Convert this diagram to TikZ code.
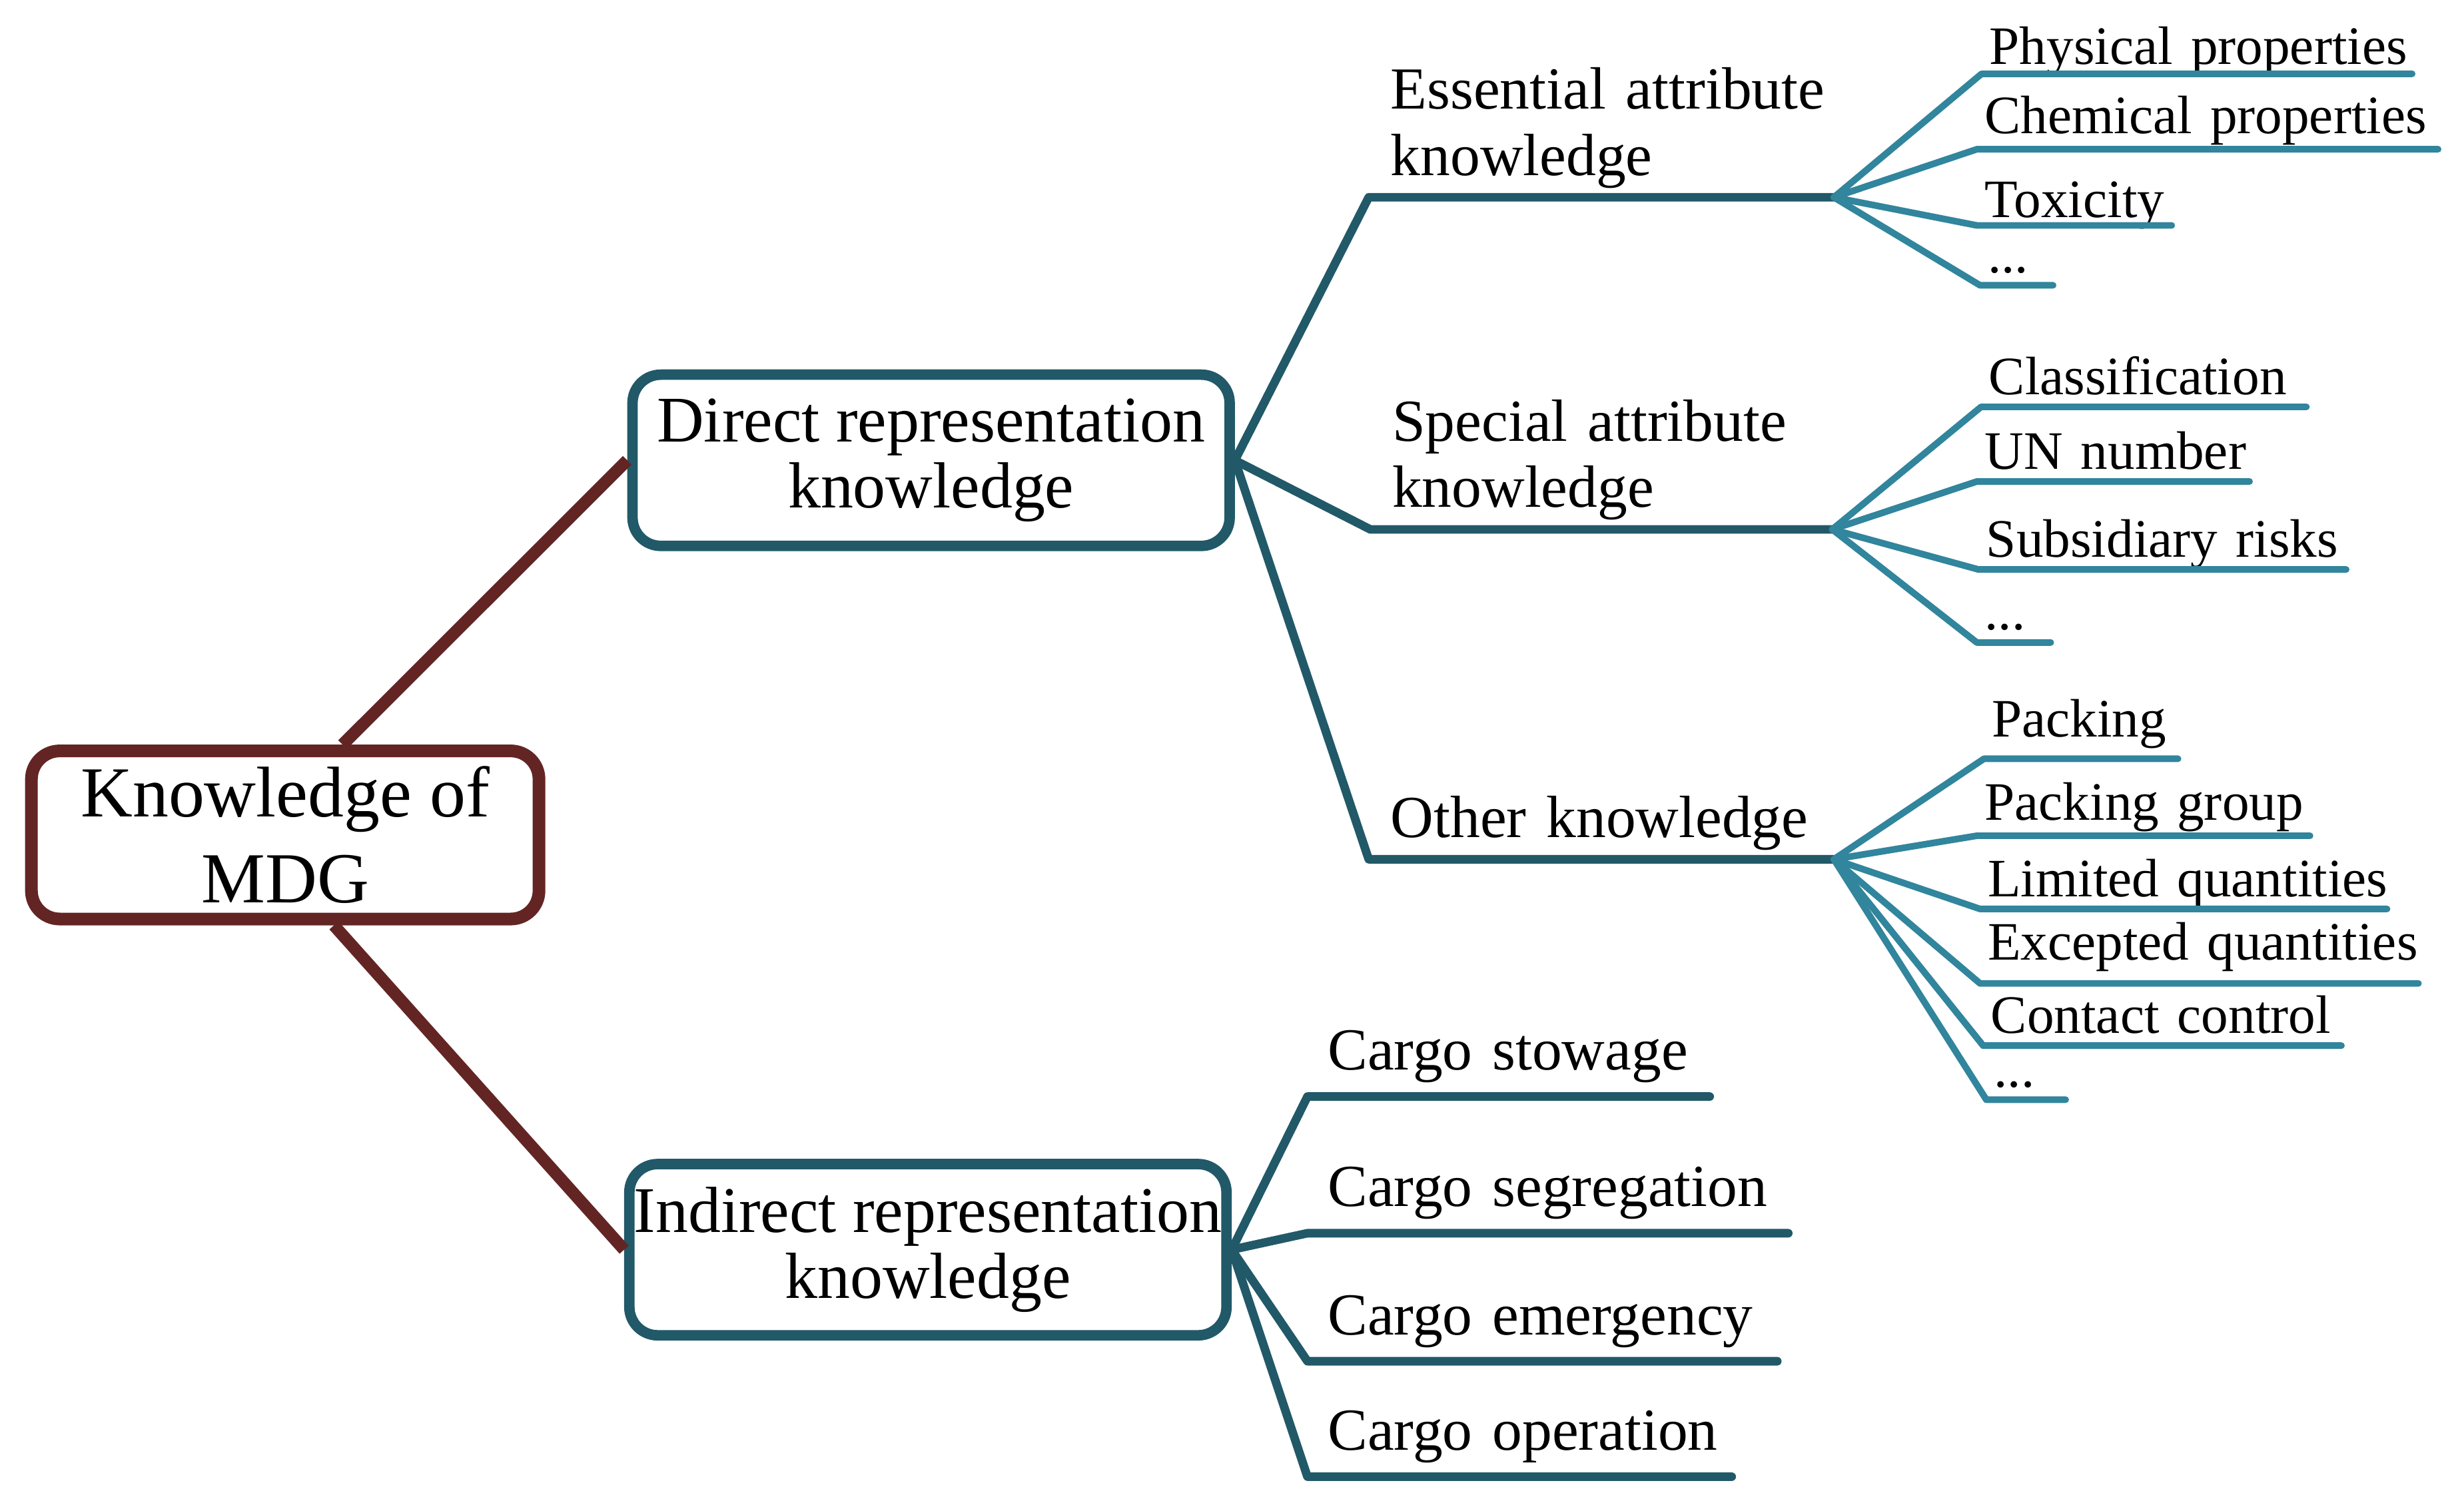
\documentclass[tikz,border=0pt]{standalone}
\usepackage{fontspec}
\setmainfont{Liberation Serif}
\usepackage{xcolor}
\definecolor{mdgbrown}{RGB}{99,37,35}
\definecolor{mdgdark}{RGB}{33,89,104}
\definecolor{mdgteal}{RGB}{49,133,156}

\begin{document}
\begin{tikzpicture}
  [x=0.1mm,y=-0.1mm,line cap=round,line join=round,
   kbox/.style={draw=mdgdark,line width=1.9pt,rounded corners=1.8mm,
     minimum width=38mm,minimum height=10.9mm,align=center,inner sep=0pt,
     font=\fontsize{11.8}{12}\selectfont},
   rootbox/.style={kbox,draw=mdgbrown,line width=2.3pt,minimum width=32.3mm,
     minimum height=10.7mm,font=\fontsize{13}{15.6}\selectfont},
   mid/.style={anchor=south west,outer sep=0pt,inner xsep=1.4mm,inner ysep=1.4mm,
     text depth=0pt,align=left,text width=#1,
     font={\fontsize{10.8}{12}\selectfont\hyphenpenalty=10000\relax}},
   twolines/.style={text depth=12pt},
   cargo/.style={mid=#1,inner xsep=1.3mm,inner ysep=1.7mm},
   leaf/.style={anchor=south west,outer sep=0pt,inner xsep=0.5mm,inner ysep=0.8mm,
     text depth=0pt,align=left,text width=#1,
     font={\fontsize{9.8}{11}\selectfont\hyphenpenalty=10000\relax}},
   rootline/.style={draw=mdgbrown,line width=2.2pt,line cap=butt},
   midline/.style={draw=mdgdark,line width=1.55pt},
   leafline/.style={draw=mdgteal,line width=1.2pt}]
  \useasboundingbox (0,0) rectangle (1568,958);

  \node[rootbox] (mdg) at (181.5,531.5) {Knowledge of\\MDG};
  \node[kbox] (direct) at (592.5,293) {Direct representation\\knowledge};
  \node[kbox] (indirect) at (590.5,795.5) {Indirect representation\\knowledge};

  \node[mid=26.8mm,twolines] (ess) at (871,125.6) {Essential~attribute\\knowledge};
  \node[mid=26.6mm,twolines] (spe) at (872,337) {Special~attribute\\knowledge};
  \node[mid=26.8mm] (oth) at (871,547) {Other~knowledge};

  \node[cargo=23mm] (stow) at (832,698) {Cargo~stowage};
  \node[cargo=28mm] (segr) at (832,785) {Cargo~segregation};
  \node[cargo=27.3mm] (emer) at (832,866.5) {Cargo~emergency};
  \node[cargo=24.4mm] (oper) at (832,940) {Cargo~operation};

  \node[leaf=26.4mm,inner ysep=0.6mm] (phys) at (1261,47) {Physical~properties};
  \node[leaf=28.35mm,inner ysep=1mm] (chem) at (1258,95) {Chemical~properties};
  \node[leaf=11.4mm,inner ysep=0.5mm] (tox) at (1258,143.5) {Toxicity};
  \node[leaf=3.65mm] (more1) at (1260,181.6) {...};

  \node[leaf=19.7mm] (class) at (1260.7,259) {Classification};
  \node[leaf=16.35mm] (un) at (1258,306.5) {UN~number};
  \node[leaf=22.4mm] (subs) at (1259,362.5) {Subsidiary~risks};
  \node[leaf=3.7mm] (more2) at (1258,409) {...};

  \node[leaf=11.35mm,inner ysep=1.4mm] (pack) at (1262.5,483) {Packing};
  \node[leaf=20.2mm,inner ysep=1mm] (pgroup) at (1258,532) {Packing~group};
  \node[leaf=24.9mm] (limq) at (1260,578.6) {Limited~quantities};
  \node[leaf=26.9mm,inner ysep=1.5mm] (excq) at (1260,626) {Excepted~quantities};
  \node[leaf=21.8mm] (contc) at (1262,665.6) {Contact~control};
  \node[leaf=4.05mm] (more3) at (1264,700) {...};

  \draw[rootline] ([xshift=3.65mm]mdg.north) -- (direct.west);
  \draw[rootline] ([xshift=3.1mm]mdg.south) -- (indirect.west);

  \foreach \from/\to in {direct/ess,direct/spe,direct/oth,
      indirect/stow,indirect/segr,indirect/emer,indirect/oper}
    \draw[midline] (\from.east) -- (\to.south west) -- (\to.south east);

  \foreach \from/\to in {ess/phys,ess/chem,ess/tox,ess/more1,
      spe/class,spe/un,spe/subs,spe/more2,
      oth/pack,oth/pgroup,oth/limq,oth/excq,oth/contc,oth/more3}
    \draw[leafline] (\from.south east) -- (\to.south west) -- (\to.south east);

\end{tikzpicture}
\end{document}
